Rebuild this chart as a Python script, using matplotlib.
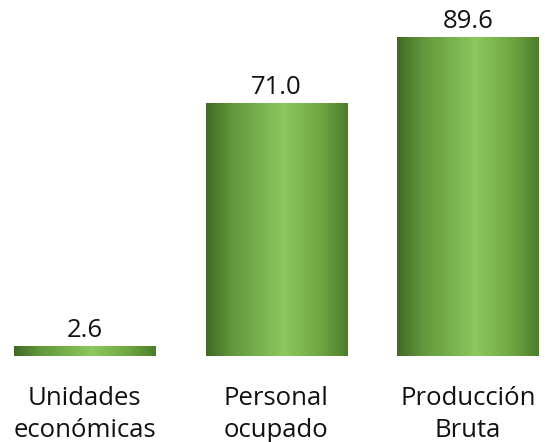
import numpy as np
import matplotlib.pyplot as plt
from matplotlib.colors import LinearSegmentedColormap

categories = ["Unidades\neconómicas", "Personal\nocupado", "Producción\nBruta"]
values = [2.6, 71.0, 89.6]
value_labels = ["2.6", "71.0", "89.6"]

plt.rcParams['font.family'] = ['Open Sans', 'DejaVu Sans']

fig = plt.figure(figsize=(5.45, 4.42), dpi=100)
ax = fig.add_axes([0, 0, 1, 1])
ax.set_xlim(-0.441, 2.402)
ax.set_ylim(-24.2, 100.3)
ax.axis('off')

cmap = LinearSegmentedColormap.from_list(
    "cyl", [(0.0, "#3f6a25"), (0.18, "#62973b"), (0.55, "#8cc85c"),
            (0.82, "#6ea540"), (1.0, "#4d7c2c")])
grad = np.linspace(0, 1, 256).reshape(1, -1)

width = 0.736
bars = ax.bar(range(len(values)), values, width=width, color='none', edgecolor='none')
for i, (b, v) in enumerate(zip(bars, values)):
    x0 = b.get_x()
    ax.imshow(grad, cmap=cmap, aspect='auto', extent=(x0, x0 + width, 0, v),
              interpolation='bicubic', zorder=2)
    ax.text(i, v + 1.1, value_labels[i], ha='center', va='bottom', fontsize=18.5, color='#111111')
    ax.text(i, -8.3, categories[i], ha='center', va='top', fontsize=18.5,
            color='#111111', linespacing=1.4)

fig.savefig("out.png", dpi=100)
